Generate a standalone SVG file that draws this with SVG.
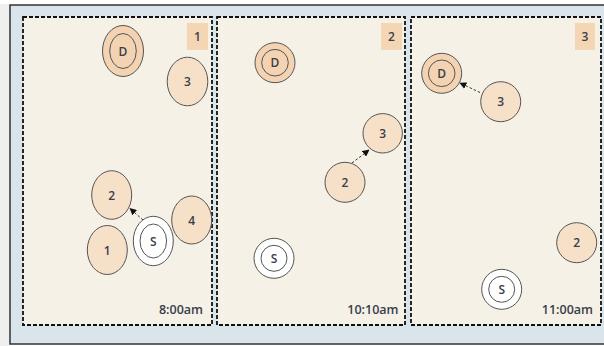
<svg xmlns="http://www.w3.org/2000/svg" width="604" height="346" viewBox="0 0 604 346">
<style>
.frame{fill:#d9e5eb;stroke:#333;stroke-width:1.5}
.panel{fill:#f5f1e7;stroke:#111;stroke-width:1.8;stroke-dasharray:4 2}
.badge{fill:#f5d6b4}
.node{fill:#f6e0c8;stroke:#555;stroke-width:1}
.dnode{fill:#f3d3b1;stroke:#555;stroke-width:1}
.snode{fill:#ffffff;stroke:#555;stroke-width:1}
.lbl{font-family:"Open Sans","DejaVu Sans",sans-serif;font-size:12px;font-weight:600;fill:#3a3d4a;text-anchor:middle;dominant-baseline:central}
.time{font-family:"Open Sans","DejaVu Sans",sans-serif;font-size:12.5px;font-weight:600;fill:#3a3d4a;text-anchor:end}
.conn{stroke:#333;stroke-width:1;stroke-dasharray:2.5 2;fill:none;marker-end:url(#ah)}
</style>
<defs>
<marker id="ah" viewBox="0 0 10 10" refX="9" refY="5" markerWidth="7" markerHeight="7" markerUnits="userSpaceOnUse" orient="auto">
<path d="M0,0 L10,5 L0,10 z" fill="#111"/>
</marker>
</defs>
<rect x="0" y="0" width="604" height="346" fill="#ffffff"/>
<rect x="0" y="4" width="10" height="342" fill="#efefef"/>
<rect id="frame" class="frame" x="10" y="5" width="600" height="339"/>
<g id="panel1">
<rect class="panel" x="23" y="17" width="189" height="308"/>
<rect class="badge" x="187" y="23" width="21" height="27"/>
<text class="lbl" x="197.5" y="36.5">1</text>
<text class="time" x="203" y="314">8:00am</text>
</g>
<g id="panel2">
<rect class="panel" x="217" y="17" width="188" height="308"/>
<rect class="badge" x="381" y="23" width="21" height="27"/>
<text class="lbl" x="391.5" y="36.5">2</text>
<text class="time" x="398.5" y="314">10:10am</text>
</g>
<g id="panel3">
<rect class="panel" x="411" y="17" width="190" height="308"/>
<rect class="badge" x="575" y="23" width="20" height="27"/>
<text class="lbl" x="585" y="36.5">3</text>
<text class="time" x="593" y="314">11:00am</text>
</g>
<g id="connectors">
<line class="conn" x1="143" y1="220" x2="130" y2="208.5"/>
<line class="conn" x1="352" y1="163" x2="369" y2="150"/>
<line class="conn" x1="480" y1="92.5" x2="460" y2="83"/>
</g>
<g id="p1-D"><ellipse class="dnode" cx="123" cy="51" rx="20.5" ry="25.5"/><ellipse class="dnode" cx="123" cy="51" rx="13.3" ry="17.5"/><text class="lbl" x="123" y="51">D</text></g>
<g id="p1-3"><ellipse class="node" cx="187.5" cy="81.5" rx="20.3" ry="24.3"/><text class="lbl" x="187.5" y="81.5">3</text></g>
<g id="p1-2"><ellipse class="node" cx="111.7" cy="195" rx="20" ry="24.3"/><text class="lbl" x="111.7" y="195">2</text></g>
<g id="p1-1"><ellipse class="node" cx="107.3" cy="250" rx="20" ry="24.5"/><text class="lbl" x="107.3" y="250">1</text></g>
<g id="p1-S"><ellipse class="snode" cx="153.3" cy="241" rx="20" ry="24.7"/><ellipse class="snode" cx="153.3" cy="241" rx="13.3" ry="17"/><text class="lbl" x="153.3" y="241">S</text></g>
<g id="p1-4"><ellipse class="node" cx="191.7" cy="220" rx="20" ry="24"/><text class="lbl" x="191.7" y="220">4</text></g>
<g id="p2-D"><circle class="dnode" cx="275" cy="62.7" r="20"/><circle class="dnode" cx="275" cy="62.7" r="13.3"/><text class="lbl" x="275" y="62.7">D</text></g>
<g id="p2-3"><circle class="node" cx="382.7" cy="133.3" r="19.7"/><text class="lbl" x="382.7" y="133.3">3</text></g>
<g id="p2-2"><circle class="node" cx="345" cy="182.3" r="20"/><text class="lbl" x="345" y="182.3">2</text></g>
<g id="p2-S"><circle class="snode" cx="274" cy="258.3" r="20"/><circle class="snode" cx="274" cy="258.3" r="13"/><text class="lbl" x="274" y="258.3">S</text></g>
<g id="p3-D"><circle class="dnode" cx="441.7" cy="73.3" r="20"/><circle class="dnode" cx="441.7" cy="73.3" r="13.3"/><text class="lbl" x="441.7" y="73.3">D</text></g>
<g id="p3-3"><circle class="node" cx="500.7" cy="101.7" r="20"/><text class="lbl" x="500.7" y="101.7">3</text></g>
<g id="p3-2"><circle class="node" cx="576.7" cy="242.7" r="20"/><text class="lbl" x="576.7" y="242.7">2</text></g>
<g id="p3-S"><circle class="snode" cx="501.7" cy="289.3" r="20"/><circle class="snode" cx="501.7" cy="289.3" r="13"/><text class="lbl" x="501.7" y="289.3">S</text></g>
</svg>
